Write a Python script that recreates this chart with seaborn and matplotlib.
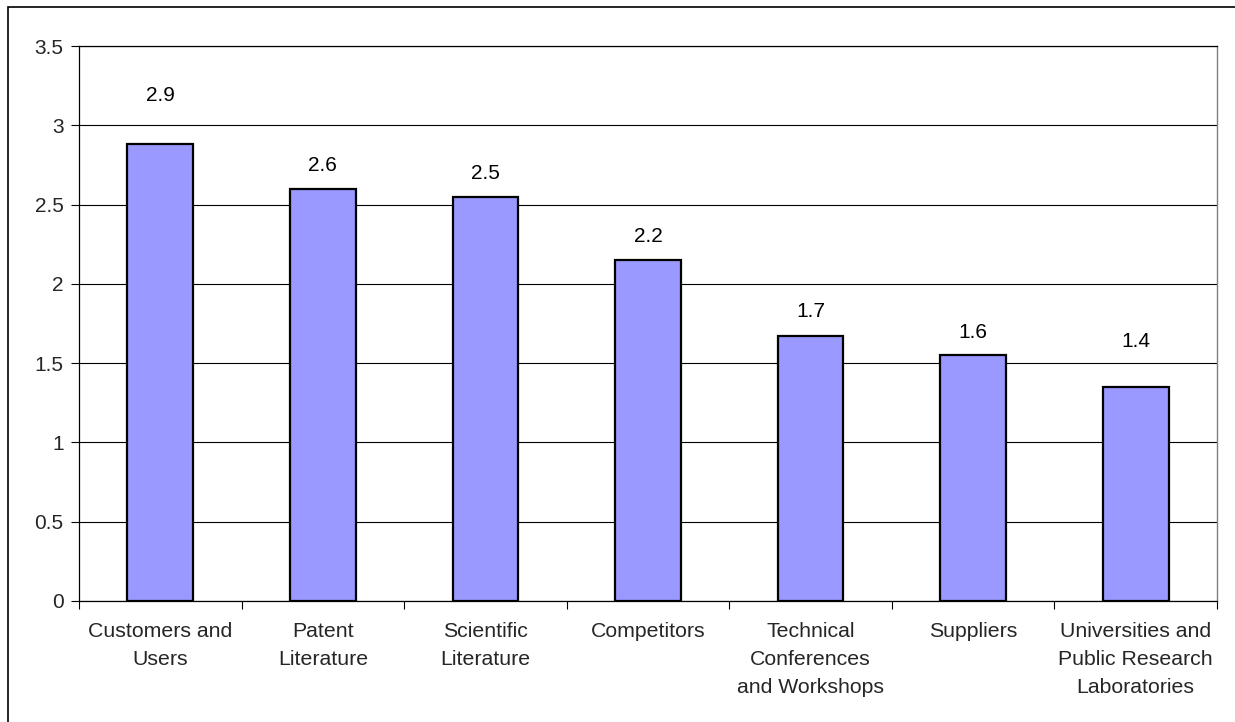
import numpy as np
import pandas as pd
import matplotlib
matplotlib.use("Agg")
import matplotlib.pyplot as plt
from matplotlib.patches import Rectangle
import seaborn as sns

# chart data
categories = [
    "Customers and\nUsers",
    "Patent\nLiterature",
    "Scientific\nLiterature",
    "Competitors",
    "Technical\nConferences\nand Workshops",
    "Suppliers",
    "Universities and\nPublic Research\nLaboratories",
]
values = [2.88, 2.60, 2.55, 2.15, 1.67, 1.55, 1.35]
labels = ["2.9", "2.6", "2.5", "2.2", "1.7", "1.6", "1.4"]
y_ticks = [0, 0.5, 1, 1.5, 2, 2.5, 3, 3.5]
y_tick_labels = ["0", "0.5", "1", "1.5", "2", "2.5", "3", "3.5"]

# label gap above each bar (pixels), as Excel placed them
label_gap = [49, 23, 23, 24, 25, 23, 45]

sns.set_theme(style="white")
plt.rcParams["font.family"] = ["Liberation Sans", "DejaVu Sans"]

df = pd.DataFrame({"cat": categories, "val": values})

fig = plt.figure(figsize=(12.35, 7.22), dpi=100)
ax = fig.add_axes([79 / 1235, 1 - 601 / 722, (1217 - 79) / 1235, (601 - 46) / 722])

sns.barplot(data=df, x="cat", y="val", ax=ax, color="#9999FF", saturation=1,
            width=0.405, edgecolor="black", linewidth=1.6, zorder=3)

ax.set_ylim(0, 3.5)
ax.set_xlim(-0.5, len(categories) - 0.5)
ax.set_yticks(y_ticks)
ax.set_yticklabels(y_tick_labels, fontsize=15)
ax.yaxis.grid(True, color="black", linewidth=0.8, zorder=0)
ax.set_axisbelow(True)

ax.set_xticks(range(len(categories)))
ax.set_xticklabels(categories, fontsize=15.3, linespacing=1.62)
ax.set_xticks(np.arange(-0.5, len(categories), 1), minor=True)
ax.tick_params(axis="x", which="major", length=0, pad=15)
ax.tick_params(axis="x", which="minor", length=6, width=0.8, color="black", direction="out", bottom=True)
ax.tick_params(axis="y", length=6, width=0.8, color="black", direction="out", left=True, pad=5)
ax.set_xlabel("")
ax.set_ylabel("")

for side in ["left", "bottom", "top"]:
    ax.spines[side].set_color("black")
    ax.spines[side].set_linewidth(0.9)
ax.spines["right"].set_color("#808080")
ax.spines["right"].set_linewidth(1.0)

for i, (v, lab) in enumerate(zip(values, labels)):
    ax.annotate(lab, (i, v), xytext=(0, label_gap[i] * 0.72), textcoords="offset points",
                ha="center", va="center", fontsize=15, color="black")

# outer chart border (cropped at right and bottom)
fig.patches.append(Rectangle((8 / 1235, -0.05), 1.2, 1 - 7 / 722 + 0.05,
                             transform=fig.transFigure, fill=False,
                             edgecolor="black", linewidth=1.2))

fig.savefig("out.png", dpi=100)
